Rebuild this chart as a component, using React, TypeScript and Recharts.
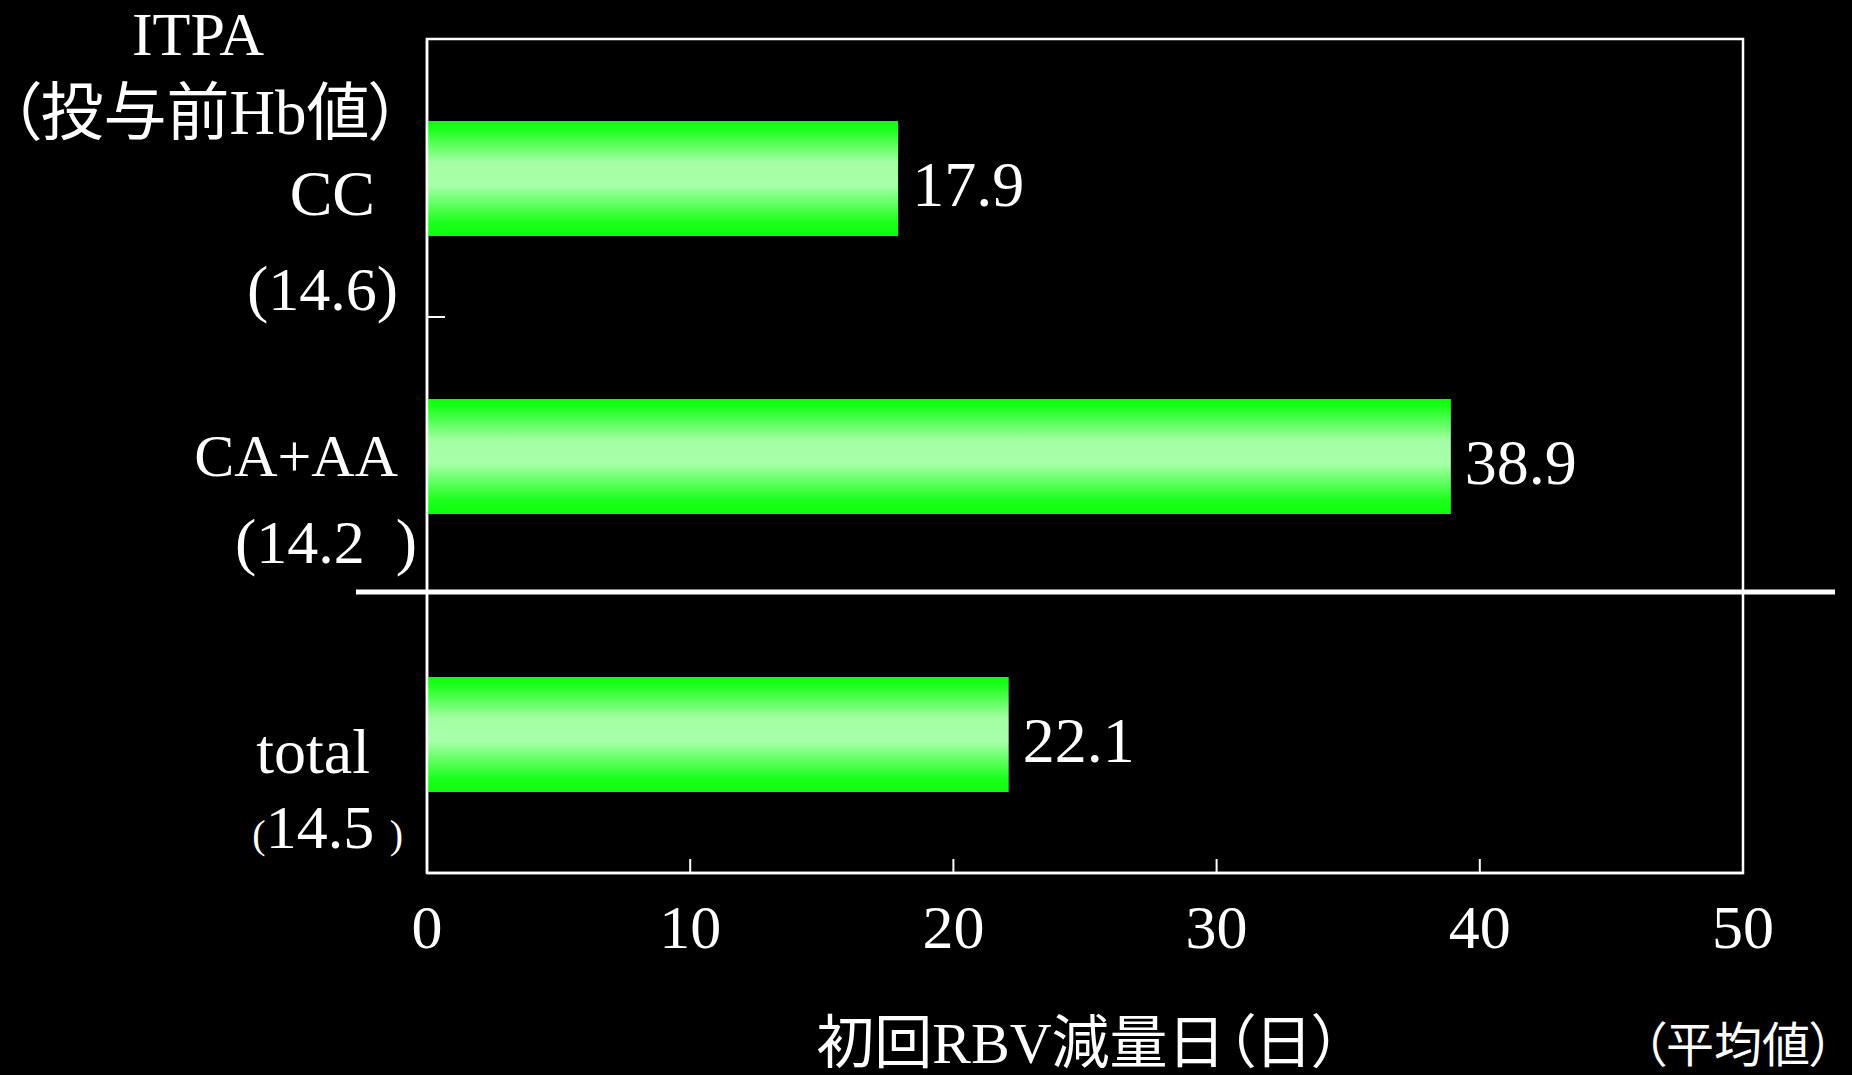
import { BarChart, Bar, XAxis, YAxis, ReferenceArea, ReferenceLine, LabelList } from "recharts";

// ITPA genotype groups, mean days to first RBV dose reduction, mean pre-treatment Hb
const categories = ["CC", "CA+AA", "total"];
const reductionDays = [17.9, 38.9, 22.1];
const preHb = [14.6, 14.2, 14.5];
const dayTicks = [0, 10, 20, 30, 40, 50];

const groupTitle = "ITPA";
const groupSubtitle = "（投与前Hb値）";
const xTitle = "初回RBV減量日（日）";
const xNote = "（平均値）";

const data = categories.map((name, i) => ({ name, days: reductionDays[i], hb: preHb[i] }));

const SERIF = '"Liberation Serif", "Noto Sans CJK JP", serif';
const palt = { fontFeatureSettings: '"palt" 1' };

// per-row placement of the two-line category labels (offsets from the band centre)
const rowLabel: Record<
  string,
  { nameDx: number; nameDy: number; nameSize: number; hbDx: number; hbDy: number; paren: number; gap: string }
> = {
  CC: { nameDx: -52, nameDy: 37, nameSize: 64, hbDx: -29, hbDy: 132, paren: 64, gap: "" },
  "CA+AA": { nameDx: -29, nameDy: 20, nameSize: 60, hbDx: -10, hbDy: 107, paren: 64, gap: "  " },
  total: { nameDx: -57, nameDy: 39, nameSize: 64, hbDx: -24, hbDy: 114, paren: 40, gap: " " },
};

const CategoryTick = (props: any) => {
  const { x, y, payload } = props;
  const lay = rowLabel[payload.value];
  const row = data.find((d) => d.name === payload.value);
  if (!lay || !row) return null;
  return (
    <g fill="#fff" fontFamily={SERIF}>
      <text x={x + lay.nameDx} y={y + lay.nameDy} textAnchor="end" fontSize={lay.nameSize}>
        {payload.value}
      </text>
      <text x={x + lay.hbDx} y={y + lay.hbDy} textAnchor="end" fontSize={62} xmlSpace="preserve">
        <tspan fontSize={lay.paren}>(</tspan>
        {row.hb.toFixed(1)}
        {lay.gap}
        <tspan fontSize={lay.paren}>)</tspan>
      </text>
    </g>
  );
};

const DayTick = (props: any) => {
  const { x, y, payload } = props;
  return (
    <g>
      <line x1={x} x2={x} y1={y} y2={y - 14} stroke="#fff" strokeWidth={2} />
      <text x={x} y={y + 75} textAnchor="middle" fill="#fff" fontFamily={SERIF} fontSize={62}>
        {payload.value}
      </text>
    </g>
  );
};

const renderValue = (props: any) => {
  const { x, y, width, height, value } = props;
  return (
    <text x={x + width + 14} y={y + height / 2 + 27} fill="#fff" fontFamily={SERIF} fontSize={64}>
      {Number(value).toFixed(1)}
    </text>
  );
};

const renderGroupTitle = (props: any) => {
  const vb = props.viewBox || { x: 0 };
  return (
    <g fill="#fff" fontFamily={SERIF} textAnchor="middle">
      <text x={vb.x + 198} y={55} fontSize={62}>
        {groupTitle}
      </text>
      <text x={vb.x + 205} y={134} fontSize={63} style={palt}>
        {groupSubtitle}
      </text>
    </g>
  );
};

const renderXTitle = (props: any) => {
  const vb = props.viewBox;
  if (!vb) return null;
  return (
    <g fill="#fff" fontFamily={SERIF}>
      <text x={vb.x + vb.width / 2 - 6} y={vb.y + 190} textAnchor="middle" fontSize={58} style={palt}>
        {xTitle}
      </text>
      <text x={vb.x + vb.width + 91} y={vb.y + 189} textAnchor="end" fontSize={48} style={palt}>
        {xNote}
      </text>
    </g>
  );
};

export default function App() {
  return (
    <div style={{ width: 1852, height: 1075, background: "#000", overflow: "hidden" }}>
      <style>{`body { margin: 0; background: #000; }`}</style>
      <BarChart
        width={1852}
        height={1075}
        data={data}
        layout="vertical"
        margin={{ top: 39, right: 109, bottom: 0, left: 0 }}
      >
        <defs>
          <linearGradient id="barFill" x1="0" y1="0" x2="0" y2="1">
            <stop offset="0" stopColor="#0cff0c" />
            <stop offset="0.07" stopColor="#1cff1c" />
            <stop offset="0.36" stopColor="#a4ffa4" />
            <stop offset="0.56" stopColor="#a8ffa8" />
            <stop offset="0.88" stopColor="#1cff1c" />
            <stop offset="1" stopColor="#0cff0c" />
          </linearGradient>
        </defs>
        <XAxis
          type="number"
          domain={[0, 50]}
          ticks={dayTicks}
          height={202}
          axisLine={{ stroke: "#fff", strokeWidth: 2.5 }}
          tickLine={false}
          tickSize={0}
          tickMargin={0}
          tick={<DayTick />}
          label={renderXTitle}
        />
        <YAxis
          type="category"
          dataKey="name"
          width={427}
          interval={0}
          axisLine={{ stroke: "#fff", strokeWidth: 2.5 }}
          tickLine={false}
          tickSize={0}
          tickMargin={0}
          tick={<CategoryTick />}
          label={renderGroupTitle}
        />
        <ReferenceArea x1={0} x2={50} fill="none" stroke="#fff" strokeWidth={2.5} ifOverflow="visible" />
        <ReferenceLine
          y="CC"
          position="end"
          ifOverflow="visible"
          shape={(p: any) => <line x1={p.x1} x2={p.x1 + 18} y1={p.y1} y2={p.y2} stroke="#fff" strokeWidth={2} />}
        />
        <Bar dataKey="days" fill="url(#barFill)" barSize={115} isAnimationActive={false}>
          <LabelList dataKey="days" content={renderValue} />
        </Bar>
        <ReferenceLine
          y="CA+AA"
          position="end"
          ifOverflow="visible"
          shape={(p: any) => (
            <line x1={p.x1 - 71} x2={p.x2 + 92} y1={p.y1 - 3} y2={p.y2 - 3} stroke="#fff" strokeWidth={5} />
          )}
        />
      </BarChart>
    </div>
  );
}
